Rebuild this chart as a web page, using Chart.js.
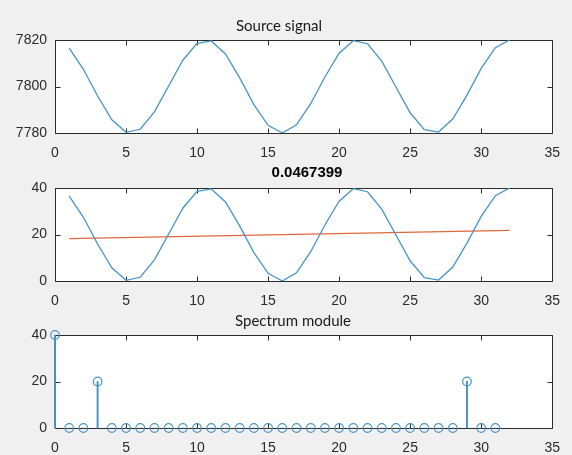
<!DOCTYPE html>
<html>
<head>
<meta charset="utf-8">
<script src="https://cdn.jsdelivr.net/npm/chart.js@4"></script>
<style>
  html, body { margin: 0; padding: 0; background: #f0f0f0; }
  #fig { position: relative; width: 572px; height: 455px; background: #f0f0f0; overflow: hidden; }
  #fig canvas { position: absolute; left: 0; }
</style>
</head>
<body>
<div id="fig">
  <canvas id="plot_source" width="572" height="170" style="top:0px"></canvas>
  <canvas id="plot_centred" width="572" height="165" style="top:150px"></canvas>
  <canvas id="plot_spectrum" width="572" height="155" style="top:300px"></canvas>
</div>
<script>
// sample index of the signal
const sampleIdx = [1, 2, 3, 4, 5, 6, 7, 8, 9, 10, 11, 12, 13, 14, 15, 16,
                   17, 18, 19, 20, 21, 22, 23, 24, 25, 26, 27, 28, 29, 30, 31, 32];
const sourceSignal = [7816.5, 7807.4, 7795.9, 7785.7, 7780.3, 7781.6, 7789.1, 7800.2,
                      7811.3, 7818.6, 7819.6, 7814.0, 7803.7, 7792.2, 7783.3, 7780.0,
                      7783.5, 7792.6, 7804.1, 7814.3, 7819.7, 7818.4, 7810.9, 7799.8,
                      7788.7, 7781.4, 7780.4, 7786.0, 7796.3, 7807.8, 7816.7, 7820.0];
const centredSignal = [36.5, 27.4, 15.9, 5.7, 0.3, 1.6, 9.1, 20.2,
                       31.3, 38.6, 39.6, 34.0, 23.7, 12.2, 3.3, 0.0,
                       3.5, 12.6, 24.1, 34.3, 39.7, 38.4, 30.9, 19.8,
                       8.7, 1.4, 0.4, 6.0, 16.3, 27.8, 36.7, 40.0];
// fitted trend line (end points)
const trendX = [1, 32];
const trendY = [18.2, 21.8];
// spectrum bins
const binIdx = [0, 1, 2, 3, 4, 5, 6, 7, 8, 9, 10, 11, 12, 13, 14, 15,
                16, 17, 18, 19, 20, 21, 22, 23, 24, 25, 26, 27, 28, 29, 30, 31];
const spectrumMod = [40, 0, 0, 20, 0, 0, 0, 0, 0, 0, 0, 0, 0, 0, 0, 0,
                     0, 0, 0, 0, 0, 0, 0, 0, 0, 0, 0, 0, 0, 20, 0, 0];

const titles = ["Source signal", "0.0467399", "Spectrum module"];
const xTicks = [0, 5, 10, 15, 20, 25, 30, 35];

const BLUE = "#4694ca";
const RED = "#e0683c";
const INK = "#2b2b2b";

const toPoints = (xs, ys) => xs.map((x, i) => ({ x: x, y: ys[i] }));

// white plot area, box and inward ticks like MATLAB axes
const matlabAxes = {
    id: "matlabAxes",
    beforeDraw(chart) {
        const a = chart.chartArea;
        const ctx = chart.ctx;
        ctx.save();
        ctx.fillStyle = "#ffffff";
        ctx.fillRect(a.left, a.top, a.right - a.left, a.bottom - a.top);
        ctx.restore();
    },
    beforeDatasetsDraw(chart) {
        const a = chart.chartArea;
        const ctx = chart.ctx;
        const xs = chart.scales.x, ys = chart.scales.y;
        const L = Math.round(a.left) + 0.5, R = Math.round(a.right) + 0.5;
        const T = Math.round(a.top) + 0.5, B = Math.round(a.bottom) + 0.5;
        ctx.save();
        ctx.strokeStyle = INK;
        ctx.lineWidth = 1;
        ctx.beginPath();
        ctx.rect(L, T, R - L, B - T);
        xs.ticks.forEach(t => {
            const px = Math.round(xs.getPixelForValue(t.value)) + 0.5;
            ctx.moveTo(px, B); ctx.lineTo(px, B - 5);
            ctx.moveTo(px, T); ctx.lineTo(px, T + 5);
        });
        ys.ticks.forEach(t => {
            const py = Math.round(ys.getPixelForValue(t.value)) + 0.5;
            ctx.moveTo(L, py); ctx.lineTo(L + 5, py);
            ctx.moveTo(R, py); ctx.lineTo(R - 5, py);
        });
        ctx.stroke();
        ctx.restore();
    },
    afterDraw(chart, args, opts) {
        const ctx = chart.ctx;
        ctx.save();
        ctx.fillStyle = opts.bold ? "#000000" : "#1a1a1a";
        ctx.font = opts.font;
        ctx.textAlign = "center";
        ctx.textBaseline = "middle";
        ctx.fillText(opts.text, opts.x, opts.y);
        ctx.restore();
    }
};

function makeAxes(id, datasets, yMin, yMax, areaTop, areaBottom, titleOpts) {
    const canvas = document.getElementById(id);
    return new Chart(canvas, {
        type: "line",
        data: { datasets: datasets },
        plugins: [matlabAxes],
        options: {
            responsive: false,
            animation: false,
            devicePixelRatio: 1,
            layout: { padding: { top: areaTop, left: 0, right: 12, bottom: 0 } },
            plugins: {
                legend: { display: false },
                tooltip: { enabled: false },
                title: { display: false },
                matlabAxes: titleOpts
            },
            scales: {
                x: {
                    type: "linear",
                    min: 0, max: 35,
                    offset: false,
                    afterBuildTicks: (s) => { s.ticks = xTicks.map(v => ({ value: v })); },
                    afterFit: (s) => { s.height = canvas.height - areaBottom; },
                    grid: { display: false, drawTicks: false, offset: false },
                    border: { display: false },
                    ticks: { padding: 12, color: INK, font: { family: "Liberation Sans", size: 14 },
                             maxRotation: 0, callback: (v) => String(v) }
                },
                y: {
                    type: "linear",
                    min: yMin, max: yMax,
                    afterFit: (s) => { s.width = 55; },
                    grid: { display: false, drawTicks: false },
                    border: { display: false },
                    ticks: { stepSize: 20, padding: 8, color: INK, font: { family: "Liberation Sans", size: 14 },
                             callback: (v) => String(v) }
                }
            }
        }
    });
}

makeAxes("plot_source", [{
    data: toPoints(sampleIdx, sourceSignal),
    borderColor: BLUE, borderWidth: 1.3, pointRadius: 0, tension: 0
}], 7780, 7820, 40, 133,
{ text: titles[0], x: 279, y: 26, font: "15px Lato" });

makeAxes("plot_centred", [{
    data: toPoints(sampleIdx, centredSignal),
    borderColor: BLUE, borderWidth: 1.3, pointRadius: 0, tension: 0
}, {
    data: toPoints(trendX, trendY),
    borderColor: RED, borderWidth: 1.3, pointRadius: 0, tension: 0
}], 0, 40, 38, 131,
{ text: titles[1], x: 307, y: 23, font: "bold 15px 'Liberation Sans'", bold: true });

makeAxes("plot_spectrum", [{
    type: "bar",
    data: toPoints(binIdx, spectrumMod),
    clip: false,
    backgroundColor: BLUE, borderWidth: 0, barThickness: 1.3
}, {
    type: "scatter",
    data: toPoints(binIdx, spectrumMod),
    showLine: false, clip: false,
    pointStyle: "circle", pointRadius: 4.3,
    pointBorderColor: BLUE, pointBackgroundColor: "rgba(0,0,0,0)", pointBorderWidth: 1.2
}], 0, 40, 35, 128,
{ text: titles[2], x: 293, y: 21, font: "15px Lato" });
</script>
</body>
</html>
